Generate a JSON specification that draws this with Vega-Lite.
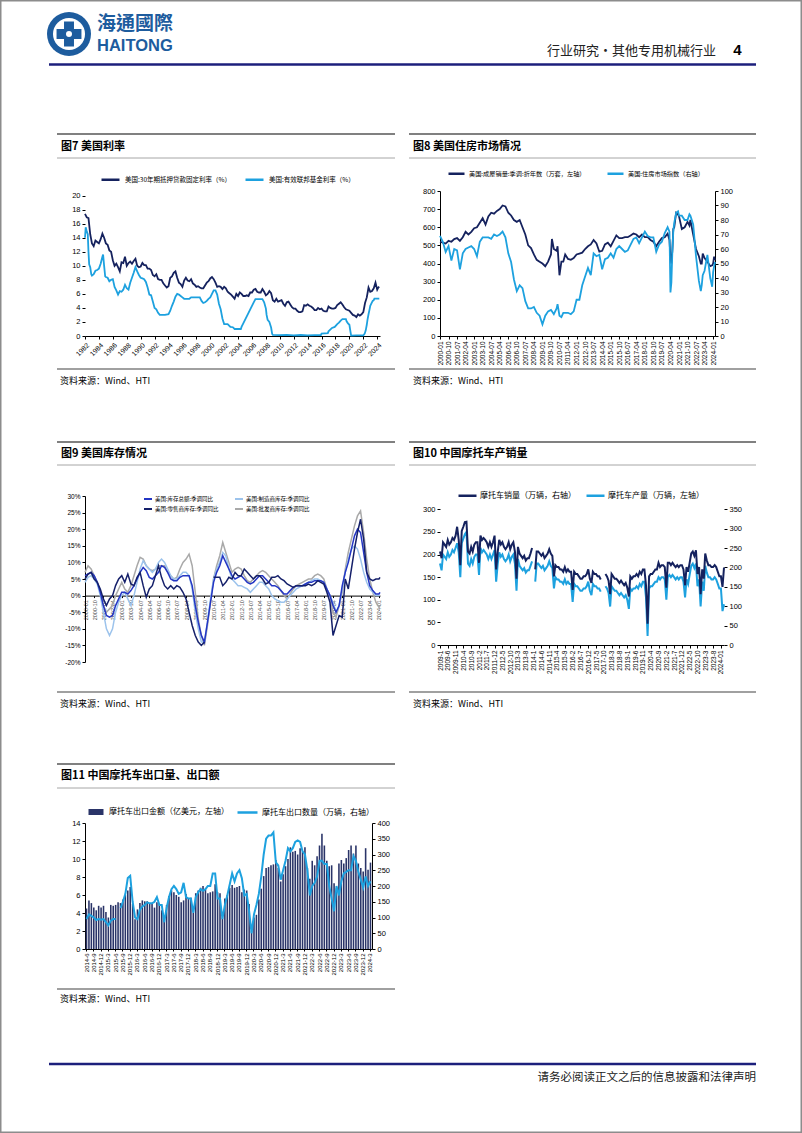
{
"$schema":"https://vega.github.io/schema/vega-lite/v6.json",
"padding":0,
"background":"white",
"columns":5,
"spacing":0,
"bounds":"flush",
"align":"each",
"resolve":{"scale":{"color":"independent","fill":"independent","stroke":"independent"}},
"config":{
 "view":{"stroke":null},
 "font":"Liberation Sans",
 "axis":{"domainColor":"#000","tickColor":"#000","labelColor":"#000","labelFont":"Liberation Sans","labelFontSize":7.5,"tickSize":3,"grid":false,"labelPadding":2,"domainWidth":1,"tickWidth":1},
 "legend":{"labelFont":"Noto Sans CJK SC","labelColor":"#000","padding":0,"labelOffset":3,"symbolStrokeWidth":2.5}
},
"datasets":{
"c7a":[{"t":1982,"v":17.4},{"t":1982.25,"v":16.9},{"t":1982.5,"v":16.8},{"t":1982.75,"v":14.5},{"t":1983,"v":13.2},{"t":1983.25,"v":12.8},{"t":1983.5,"v":13.6},{"t":1983.75,"v":13.4},{"t":1984,"v":13.2},{"t":1984.25,"v":13.8},{"t":1984.5,"v":14.6},{"t":1984.75,"v":14},{"t":1985,"v":13.2},{"t":1985.25,"v":13},{"t":1985.5,"v":12.2},{"t":1985.75,"v":12},{"t":1986,"v":10.8},{"t":1986.25,"v":10},{"t":1986.5,"v":10.3},{"t":1986.75,"v":9.8},{"t":1987,"v":9.2},{"t":1987.25,"v":10.5},{"t":1987.5,"v":10.4},{"t":1987.75,"v":11.3},{"t":1988,"v":10},{"t":1988.25,"v":10.4},{"t":1988.5,"v":10.6},{"t":1988.75,"v":10.3},{"t":1989,"v":10.7},{"t":1989.25,"v":11},{"t":1989.5,"v":10},{"t":1989.75,"v":9.8},{"t":1990,"v":9.9},{"t":1990.25,"v":10.4},{"t":1990.5,"v":10.1},{"t":1990.75,"v":10.1},{"t":1991,"v":9.6},{"t":1991.25,"v":9.6},{"t":1991.5,"v":9.4},{"t":1991.75,"v":8.7},{"t":1992,"v":8.5},{"t":1992.25,"v":8.8},{"t":1992.5,"v":8.1},{"t":1992.75,"v":8},{"t":1993,"v":8},{"t":1993.25,"v":7.5},{"t":1993.5,"v":7.2},{"t":1993.75,"v":6.9},{"t":1994,"v":7.1},{"t":1994.25,"v":8.3},{"t":1994.5,"v":8.5},{"t":1994.75,"v":9},{"t":1995,"v":9.2},{"t":1995.25,"v":8.3},{"t":1995.5,"v":7.6},{"t":1995.75,"v":7.4},{"t":1996,"v":7},{"t":1996.25,"v":7.9},{"t":1996.5,"v":8.3},{"t":1996.75,"v":7.9},{"t":1997,"v":7.8},{"t":1997.25,"v":8.1},{"t":1997.5,"v":7.5},{"t":1997.75,"v":7.3},{"t":1998,"v":7},{"t":1998.25,"v":7.1},{"t":1998.5,"v":6.9},{"t":1998.75,"v":6.8},{"t":1999,"v":6.8},{"t":1999.25,"v":7.2},{"t":1999.5,"v":7.6},{"t":1999.75,"v":7.8},{"t":2000,"v":8.2},{"t":2000.25,"v":8.4},{"t":2000.5,"v":8.1},{"t":2000.75,"v":7.6},{"t":2001,"v":7},{"t":2001.25,"v":7.1},{"t":2001.5,"v":7},{"t":2001.75,"v":6.7},{"t":2002,"v":7},{"t":2002.25,"v":6.8},{"t":2002.5,"v":6.3},{"t":2002.75,"v":6.1},{"t":2003,"v":5.9},{"t":2003.25,"v":5.6},{"t":2003.5,"v":5.3},{"t":2003.75,"v":6},{"t":2004,"v":5.7},{"t":2004.25,"v":6.2},{"t":2004.5,"v":6},{"t":2004.75,"v":5.7},{"t":2005,"v":5.7},{"t":2005.25,"v":5.8},{"t":2005.5,"v":5.7},{"t":2005.75,"v":6.2},{"t":2006,"v":6.2},{"t":2006.25,"v":6.6},{"t":2006.5,"v":6.7},{"t":2006.75,"v":6.3},{"t":2007,"v":6.2},{"t":2007.25,"v":6.2},{"t":2007.5,"v":6.7},{"t":2007.75,"v":6.3},{"t":2008,"v":5.8},{"t":2008.25,"v":6},{"t":2008.5,"v":6.4},{"t":2008.75,"v":6.1},{"t":2009,"v":5.1},{"t":2009.25,"v":4.9},{"t":2009.5,"v":5.3},{"t":2009.75,"v":4.9},{"t":2010,"v":5},{"t":2010.25,"v":5.1},{"t":2010.5,"v":4.6},{"t":2010.75,"v":4.3},{"t":2011,"v":4.8},{"t":2011.25,"v":4.9},{"t":2011.5,"v":4.5},{"t":2011.75,"v":4.1},{"t":2012,"v":3.9},{"t":2012.25,"v":3.9},{"t":2012.5,"v":3.6},{"t":2012.75,"v":3.4},{"t":2013,"v":3.4},{"t":2013.25,"v":3.5},{"t":2013.5,"v":4.4},{"t":2013.75,"v":4.3},{"t":2014,"v":4.5},{"t":2014.25,"v":4.3},{"t":2014.5,"v":4.2},{"t":2014.75,"v":4},{"t":2015,"v":3.7},{"t":2015.25,"v":3.7},{"t":2015.5,"v":4},{"t":2015.75,"v":3.8},{"t":2016,"v":3.9},{"t":2016.25,"v":3.6},{"t":2016.5,"v":3.5},{"t":2016.75,"v":3.5},{"t":2017,"v":4.2},{"t":2017.25,"v":4},{"t":2017.5,"v":3.9},{"t":2017.75,"v":3.9},{"t":2018,"v":4},{"t":2018.25,"v":4.4},{"t":2018.5,"v":4.6},{"t":2018.75,"v":4.8},{"t":2019,"v":4.5},{"t":2019.25,"v":4.1},{"t":2019.5,"v":3.8},{"t":2019.75,"v":3.7},{"t":2020,"v":3.6},{"t":2020.25,"v":3.3},{"t":2020.5,"v":3},{"t":2020.75,"v":2.9},{"t":2021,"v":2.7},{"t":2021.25,"v":3.1},{"t":2021.5,"v":2.9},{"t":2021.75,"v":3.1},{"t":2022,"v":3.4},{"t":2022.25,"v":4.7},{"t":2022.5,"v":5.5},{"t":2022.75,"v":6.9},{"t":2023,"v":6.3},{"t":2023.25,"v":6.4},{"t":2023.5,"v":6.8},{"t":2023.75,"v":7.6},{"t":2024,"v":6.6},{"t":2024.15,"v":6.9},{"t":2024.3,"v":7}],
"c7b":[{"t":1982,"v":14},{"t":1982.1,"v":15.5},{"t":1982.25,"v":14.9},{"t":1982.4,"v":14.5},{"t":1982.5,"v":12},{"t":1982.6,"v":10.2},{"t":1982.75,"v":9.8},{"t":1982.9,"v":8.8},{"t":1983,"v":8.6},{"t":1983.25,"v":8.8},{"t":1983.5,"v":9.3},{"t":1983.75,"v":9.4},{"t":1984,"v":9.6},{"t":1984.25,"v":10.3},{"t":1984.5,"v":11.3},{"t":1984.6,"v":11.6},{"t":1984.75,"v":10},{"t":1984.9,"v":8.5},{"t":1985,"v":8.4},{"t":1985.25,"v":8.3},{"t":1985.5,"v":7.8},{"t":1985.75,"v":8},{"t":1986,"v":8.1},{"t":1986.25,"v":7},{"t":1986.5,"v":6.5},{"t":1986.75,"v":5.9},{"t":1987,"v":6.4},{"t":1987.25,"v":6.3},{"t":1987.5,"v":6.6},{"t":1987.75,"v":7.3},{"t":1988,"v":6.8},{"t":1988.25,"v":6.6},{"t":1988.5,"v":7.6},{"t":1988.75,"v":8.3},{"t":1989,"v":9},{"t":1989.25,"v":9.8},{"t":1989.5,"v":9.2},{"t":1989.75,"v":8.7},{"t":1990,"v":8.3},{"t":1990.25,"v":8.2},{"t":1990.5,"v":8.1},{"t":1990.75,"v":7.7},{"t":1991,"v":6.9},{"t":1991.25,"v":5.9},{"t":1991.5,"v":5.8},{"t":1991.75,"v":4.9},{"t":1992,"v":4},{"t":1992.25,"v":3.8},{"t":1992.5,"v":3.3},{"t":1992.75,"v":3},{"t":1993,"v":3},{"t":1993.5,"v":3},{"t":1994,"v":3.1},{"t":1994.25,"v":3.6},{"t":1994.5,"v":4.3},{"t":1994.75,"v":4.9},{"t":1995,"v":5.6},{"t":1995.25,"v":6},{"t":1995.5,"v":5.9},{"t":1995.75,"v":5.7},{"t":1996,"v":5.5},{"t":1996.25,"v":5.3},{"t":1996.5,"v":5.3},{"t":1996.75,"v":5.3},{"t":1997,"v":5.3},{"t":1997.25,"v":5.5},{"t":1997.5,"v":5.5},{"t":1997.75,"v":5.5},{"t":1998,"v":5.5},{"t":1998.25,"v":5.5},{"t":1998.5,"v":5.5},{"t":1998.75,"v":5},{"t":1999,"v":4.7},{"t":1999.25,"v":4.8},{"t":1999.5,"v":5},{"t":1999.75,"v":5.3},{"t":2000,"v":5.5},{"t":2000.25,"v":6},{"t":2000.5,"v":6.5},{"t":2000.75,"v":6.5},{"t":2001,"v":5.9},{"t":2001.25,"v":4.6},{"t":2001.5,"v":3.8},{"t":2001.75,"v":2.5},{"t":2002,"v":1.7},{"t":2002.5,"v":1.7},{"t":2002.9,"v":1.3},{"t":2003.25,"v":1.25},{"t":2003.5,"v":1},{"t":2004,"v":1},{"t":2004.4,"v":1},{"t":2004.5,"v":1.3},{"t":2004.75,"v":1.8},{"t":2005,"v":2.3},{"t":2005.25,"v":2.8},{"t":2005.5,"v":3.3},{"t":2005.75,"v":3.8},{"t":2006,"v":4.3},{"t":2006.25,"v":4.8},{"t":2006.5,"v":5.25},{"t":2007,"v":5.25},{"t":2007.5,"v":5.25},{"t":2007.75,"v":4.8},{"t":2008,"v":3.9},{"t":2008.1,"v":3},{"t":2008.25,"v":2.3},{"t":2008.5,"v":2},{"t":2008.75,"v":1.2},{"t":2008.9,"v":0.3},{"t":2009,"v":0.15},{"t":2010,"v":0.12},{"t":2011,"v":0.15},{"t":2012,"v":0.1},{"t":2013,"v":0.14},{"t":2014,"v":0.08},{"t":2015,"v":0.12},{"t":2015.9,"v":0.13},{"t":2016,"v":0.35},{"t":2016.9,"v":0.4},{"t":2017,"v":0.66},{"t":2017.25,"v":0.9},{"t":2017.5,"v":1.15},{"t":2017.9,"v":1.3},{"t":2018,"v":1.42},{"t":2018.25,"v":1.7},{"t":2018.5,"v":1.9},{"t":2018.75,"v":2.2},{"t":2019,"v":2.4},{"t":2019.5,"v":2.4},{"t":2019.6,"v":2.1},{"t":2019.8,"v":1.8},{"t":2020,"v":1.6},{"t":2020.15,"v":0.65},{"t":2020.25,"v":0.05},{"t":2021,"v":0.08},{"t":2022,"v":0.08},{"t":2022.2,"v":0.33},{"t":2022.35,"v":0.8},{"t":2022.5,"v":1.6},{"t":2022.6,"v":2.3},{"t":2022.75,"v":3.1},{"t":2022.9,"v":3.8},{"t":2023,"v":4.3},{"t":2023.15,"v":4.6},{"t":2023.35,"v":5},{"t":2023.5,"v":5.1},{"t":2023.6,"v":5.33},{"t":2024.3,"v":5.33}],
"c8":[{"d":"2000-01","s":520,"h":69},{"d":"2000-04","s":515,"h":65},{"d":"2000-07","s":510,"h":58},{"d":"2000-10","s":525,"h":62},{"d":"2001-01","s":520,"h":52},{"d":"2001-04","s":535,"h":60},{"d":"2001-07","s":540,"h":59},{"d":"2001-10","s":525,"h":46},{"d":"2002-01","s":545,"h":57},{"d":"2002-04","s":575,"h":60},{"d":"2002-07","s":560,"h":61},{"d":"2002-10","s":575,"h":62},{"d":"2003-01","s":595,"h":60},{"d":"2003-04","s":600,"h":55},{"d":"2003-07","s":625,"h":65},{"d":"2003-10","s":650,"h":68},{"d":"2004-01","s":615,"h":68},{"d":"2004-04","s":660,"h":68},{"d":"2004-07","s":680,"h":67},{"d":"2004-10","s":675,"h":70},{"d":"2005-01","s":690,"h":69},{"d":"2005-04","s":700,"h":70},{"d":"2005-07","s":720,"h":72},{"d":"2005-10","s":715,"h":68},{"d":"2006-01","s":680,"h":57},{"d":"2006-04","s":665,"h":51},{"d":"2006-07","s":640,"h":39},{"d":"2006-10","s":630,"h":31},{"d":"2007-01","s":640,"h":35},{"d":"2007-04","s":600,"h":33},{"d":"2007-07","s":560,"h":24},{"d":"2007-10","s":500,"h":19},{"d":"2008-01","s":485,"h":19},{"d":"2008-04","s":450,"h":20},{"d":"2008-07","s":420,"h":16},{"d":"2008-10","s":410,"h":14},{"d":"2009-01","s":400,"h":8},{"d":"2009-04","s":385,"h":14},{"d":"2009-07","s":410,"h":17},{"d":"2009-10","s":450,"h":18},{"d":"2009-11","s":535,"h":17},{"d":"2010-01","s":480,"h":15},{"d":"2010-04","s":470,"h":19},{"d":"2010-05","s":495,"h":22},{"d":"2010-07","s":335,"h":14},{"d":"2010-09","s":410,"h":13},{"d":"2010-11","s":410,"h":16},{"d":"2011-01","s":450,"h":16},{"d":"2011-04","s":425,"h":16},{"d":"2011-07","s":420,"h":15},{"d":"2011-10","s":430,"h":17},{"d":"2012-01","s":450,"h":25},{"d":"2012-04","s":455,"h":25},{"d":"2012-07","s":460,"h":35},{"d":"2012-10","s":480,"h":41},{"d":"2013-01","s":495,"h":47},{"d":"2013-04","s":505,"h":42},{"d":"2013-07","s":530,"h":57},{"d":"2013-10","s":510,"h":55},{"d":"2014-01","s":465,"h":56},{"d":"2014-04","s":470,"h":46},{"d":"2014-07","s":505,"h":53},{"d":"2014-10","s":515,"h":54},{"d":"2015-01","s":495,"h":57},{"d":"2015-04","s":525,"h":54},{"d":"2015-07","s":555,"h":60},{"d":"2015-10","s":540,"h":62},{"d":"2016-01","s":540,"h":60},{"d":"2016-04","s":545,"h":58},{"d":"2016-07","s":545,"h":59},{"d":"2016-10","s":555,"h":63},{"d":"2017-01","s":565,"h":67},{"d":"2017-04","s":560,"h":68},{"d":"2017-07","s":545,"h":64},{"d":"2017-10","s":560,"h":68},{"d":"2018-01","s":545,"h":72},{"d":"2018-04","s":545,"h":69},{"d":"2018-07","s":530,"h":68},{"d":"2018-10","s":520,"h":68},{"d":"2019-01","s":495,"h":58},{"d":"2019-04","s":520,"h":63},{"d":"2019-07","s":540,"h":65},{"d":"2019-10","s":545,"h":71},{"d":"2020-01","s":565,"h":75},{"d":"2020-03","s":530,"h":72},{"d":"2020-04","s":430,"h":30},{"d":"2020-05","s":400,"h":37},{"d":"2020-06","s":470,"h":58},{"d":"2020-07","s":590,"h":72},{"d":"2020-08","s":600,"h":78},{"d":"2020-10","s":680,"h":85},{"d":"2020-12","s":670,"h":86},{"d":"2021-01","s":660,"h":83},{"d":"2021-04","s":590,"h":83},{"d":"2021-07","s":600,"h":80},{"d":"2021-10","s":630,"h":80},{"d":"2021-12","s":610,"h":84},{"d":"2022-01","s":640,"h":83},{"d":"2022-04","s":560,"h":77},{"d":"2022-07","s":480,"h":55},{"d":"2022-10","s":440,"h":38},{"d":"2022-12","s":400,"h":31},{"d":"2023-01","s":400,"h":35},{"d":"2023-02","s":455,"h":42},{"d":"2023-04","s":430,"h":45},{"d":"2023-07","s":410,"h":56},{"d":"2023-10","s":385,"h":40},{"d":"2023-12","s":390,"h":34},{"d":"2024-01","s":400,"h":44},{"d":"2024-02","s":438,"h":48},{"d":"2024-03","s":419,"h":51}],
"c9":[{"d":"2000-01","t":6,"m":4,"r":5,"w":7},{"d":"2000-04","t":6.5,"m":5.5,"r":6.5,"w":9},{"d":"2000-07","t":7,"m":6,"r":7,"w":8},{"d":"2000-10","t":6,"m":5,"r":5,"w":6},{"d":"2001-01","t":4,"m":3.5,"r":4,"w":4},{"d":"2001-04","t":1,"m":0,"r":2,"w":1},{"d":"2001-07","t":-3,"m":-5,"r":-1,"w":-3},{"d":"2001-10","t":-6,"m":-10,"r":-3,"w":-5},{"d":"2002-01","t":-6.5,"m":-12,"r":-1,"w":-4},{"d":"2002-04","t":-6,"m":-10,"r":0,"w":-3},{"d":"2002-07","t":-3,"m":-5,"r":3,"w":0},{"d":"2002-10","t":-1,"m":-2,"r":5,"w":2},{"d":"2003-01","t":1,"m":0,"r":6,"w":4},{"d":"2003-04","t":1,"m":1,"r":4,"w":2},{"d":"2003-07","t":0.5,"m":-1,"r":6.5,"w":1},{"d":"2003-10","t":1.5,"m":-3,"r":3.5,"w":3},{"d":"2004-01","t":3,"m":0,"r":3,"w":6},{"d":"2004-04","t":5,"m":4,"r":5.5,"w":9},{"d":"2004-07","t":7,"m":8,"r":7,"w":11.5},{"d":"2004-10","t":8.5,"m":10.5,"r":3,"w":11},{"d":"2005-01","t":7.5,"m":9,"r":-0.5,"w":9},{"d":"2005-04","t":5.5,"m":8,"r":2,"w":8},{"d":"2005-07","t":5,"m":7,"r":3,"w":7.5},{"d":"2005-10","t":6,"m":8,"r":6,"w":8},{"d":"2006-01","t":7,"m":10,"r":9,"w":9},{"d":"2006-04","t":9,"m":11,"r":5.5,"w":9},{"d":"2006-07","t":8.5,"m":10,"r":3,"w":9},{"d":"2006-10","t":7,"m":8,"r":2,"w":7},{"d":"2007-01","t":5,"m":6,"r":3,"w":6},{"d":"2007-04","t":4.5,"m":5,"r":2,"w":5},{"d":"2007-07","t":4.5,"m":5,"r":3,"w":5.5},{"d":"2007-10","t":5.5,"m":6,"r":2.5,"w":8},{"d":"2008-01","t":6,"m":7,"r":1,"w":10},{"d":"2008-04","t":6,"m":7,"r":-1,"w":11},{"d":"2008-07","t":6,"m":6,"r":-5,"w":12.5},{"d":"2008-10","t":3,"m":2,"r":-9,"w":9},{"d":"2009-01","t":-3,"m":-5,"r":-12,"w":1},{"d":"2009-04","t":-8,"m":-10,"r":-14,"w":-7},{"d":"2009-07","t":-12,"m":-14,"r":-15,"w":-12},{"d":"2009-10","t":-14,"m":-14,"r":-14,"w":-15},{"d":"2010-01","t":-8,"m":-8,"r":null,"w":-9},{"d":"2010-04","t":-2,"m":-1,"r":null,"w":-2},{"d":"2010-07","t":4,"m":5,"r":5.5,"w":5},{"d":"2010-10","t":7,"m":8,"r":5.5,"w":9},{"d":"2011-01","t":9,"m":10,"r":5.5,"w":12},{"d":"2011-04","t":12,"m":13,"r":3,"w":16},{"d":"2011-07","t":10,"m":12,"r":4,"w":13},{"d":"2011-10","t":8,"m":8,"r":5.5,"w":10},{"d":"2012-01","t":6,"m":5,"r":5,"w":7},{"d":"2012-04","t":5,"m":4,"r":7,"w":8},{"d":"2012-07","t":5.5,"m":3,"r":6,"w":8.5},{"d":"2012-10","t":6,"m":3,"r":6,"w":8},{"d":"2013-01","t":5,"m":2.5,"r":8,"w":6},{"d":"2013-04","t":4,"m":2,"r":7,"w":4.5},{"d":"2013-07","t":3.5,"m":1,"r":6,"w":4},{"d":"2013-10","t":4,"m":2,"r":5,"w":5},{"d":"2014-01","t":5,"m":3,"r":6,"w":6},{"d":"2014-04","t":6,"m":4,"r":6,"w":7},{"d":"2014-07","t":6,"m":4,"r":5,"w":7.5},{"d":"2014-10","t":5,"m":3,"r":3.5,"w":7},{"d":"2015-01","t":4,"m":2,"r":4,"w":6},{"d":"2015-04","t":3,"m":0,"r":5.5,"w":5},{"d":"2015-07","t":3,"m":-1,"r":5.5,"w":4},{"d":"2015-10","t":2.5,"m":-1.5,"r":6,"w":3},{"d":"2016-01","t":1.5,"m":-2,"r":5,"w":1.5},{"d":"2016-04","t":0.5,"m":-2,"r":4.5,"w":0},{"d":"2016-07","t":0.5,"m":-1,"r":3.5,"w":-1},{"d":"2016-10","t":1.5,"m":0,"r":3,"w":0.5},{"d":"2017-01","t":2.5,"m":1,"r":2.5,"w":2},{"d":"2017-04","t":3,"m":2,"r":3,"w":3},{"d":"2017-07","t":3,"m":2.5,"r":3,"w":3.5},{"d":"2017-10","t":3,"m":3,"r":3,"w":4},{"d":"2018-01","t":3.5,"m":3.5,"r":3,"w":4.5},{"d":"2018-04","t":4,"m":4,"r":3.5,"w":5},{"d":"2018-07","t":4,"m":4.5,"r":3,"w":5},{"d":"2018-10","t":4.5,"m":5,"r":3.5,"w":6},{"d":"2019-01","t":4.5,"m":5,"r":4.5,"w":6.5},{"d":"2019-04","t":4.5,"m":4.5,"r":4,"w":6},{"d":"2019-07","t":4,"m":4,"r":3.5,"w":5},{"d":"2019-10","t":2,"m":2,"r":1,"w":2},{"d":"2020-01","t":0,"m":0,"r":-2,"w":0},{"d":"2020-04","t":-3,"m":-2,"r":-12,"w":-5},{"d":"2020-07","t":-5,"m":-5,"r":-9,"w":-6.5},{"d":"2020-10","t":-3,"m":-3,"r":-6,"w":-3},{"d":"2021-01","t":3,"m":2,"r":-6.5,"w":1},{"d":"2021-04","t":7,"m":7,"r":5,"w":8},{"d":"2021-07","t":10,"m":11,"r":2,"w":13},{"d":"2021-10","t":14,"m":14,"r":8,"w":17},{"d":"2022-01","t":18,"m":15,"r":14,"w":21},{"d":"2022-04","t":20,"m":14,"r":19,"w":24},{"d":"2022-07","t":19,"m":11,"r":23,"w":25.5},{"d":"2022-10","t":13,"m":7,"r":17,"w":19},{"d":"2023-01","t":7,"m":4,"r":7,"w":11},{"d":"2023-04","t":3,"m":2,"r":5,"w":5},{"d":"2023-07","t":1.5,"m":1,"r":4.5,"w":1},{"d":"2023-10","t":0.5,"m":0,"r":5,"w":-2},{"d":"2024-01","t":0.5,"m":0,"r":5,"w":-3.5},{"d":"2024-02","t":1,"m":0,"r":5.5,"w":-3}],
"c10":[{"m":"2009-01","p":180,"s":241},{"m":"2009-02","p":165,"s":224},{"m":"2009-03","p":200,"s":265},{"m":"2009-04","p":195,"s":259},{"m":"2009-05","p":190,"s":253},{"m":"2009-06","p":205,"s":271},{"m":"2009-07","p":195,"s":259},{"m":"2009-08","p":200,"s":265},{"m":"2009-09","p":210,"s":276},{"m":"2009-10","p":205,"s":271},{"m":"2009-11","p":215,"s":282},{"m":"2009-12","p":225,"s":305},{"m":"2010-01","p":205,"s":271},{"m":"2010-02","p":150,"s":206},{"m":"2010-03","p":225,"s":294},{"m":"2010-04","p":235,"s":305},{"m":"2010-05","p":245,"s":317},{"m":"2010-06","p":250,"s":318},{"m":"2010-07","p":180,"s":241},{"m":"2010-08","p":175,"s":236},{"m":"2010-09","p":190,"s":253},{"m":"2010-10","p":180,"s":241},{"m":"2010-11","p":195,"s":259},{"m":"2010-12","p":200,"s":265},{"m":"2011-01","p":200,"s":265},{"m":"2011-02","p":155,"s":212},{"m":"2011-03","p":215,"s":282},{"m":"2011-04","p":205,"s":271},{"m":"2011-05","p":210,"s":276},{"m":"2011-06","p":205,"s":271},{"m":"2011-07","p":200,"s":265},{"m":"2011-08","p":190,"s":253},{"m":"2011-09","p":200,"s":265},{"m":"2011-10","p":190,"s":253},{"m":"2011-11","p":200,"s":265},{"m":"2011-12","p":210,"s":282},{"m":"2012-01","p":140,"s":195},{"m":"2012-02","p":180,"s":241},{"m":"2012-03","p":205,"s":271},{"m":"2012-04","p":195,"s":259},{"m":"2012-05","p":200,"s":265},{"m":"2012-06","p":190,"s":253},{"m":"2012-07","p":185,"s":247},{"m":"2012-08","p":190,"s":253},{"m":"2012-09","p":200,"s":265},{"m":"2012-10","p":185,"s":247},{"m":"2012-11","p":195,"s":259},{"m":"2012-12","p":200,"s":265},{"m":"2013-01","p":180,"s":241},{"m":"2013-02","p":120,"s":171},{"m":"2013-03","p":190,"s":253},{"m":"2013-04","p":175,"s":236},{"m":"2013-05","p":170,"s":230},{"m":"2013-06","p":165,"s":224},{"m":"2013-07","p":170,"s":230},{"m":"2013-08","p":160,"s":218},{"m":"2013-09","p":165,"s":224},{"m":"2013-10","p":165,"s":224},{"m":"2013-11","p":175,"s":236},{"m":"2013-12","p":185,"s":250},{"m":"2014-01","p":null,"s":null},{"m":"2014-02","p":140,"s":195},{"m":"2014-03","p":180,"s":241},{"m":"2014-04","p":180,"s":241},{"m":"2014-05","p":175,"s":236},{"m":"2014-06","p":170,"s":230},{"m":"2014-07","p":175,"s":236},{"m":"2014-08","p":165,"s":224},{"m":"2014-09","p":170,"s":230},{"m":"2014-10","p":175,"s":236},{"m":"2014-11","p":185,"s":247},{"m":"2014-12","p":175,"s":236},{"m":"2015-01","p":170,"s":230},{"m":"2015-02","p":125,"s":177},{"m":"2015-03","p":150,"s":206},{"m":"2015-04","p":145,"s":201},{"m":"2015-05","p":145,"s":201},{"m":"2015-06","p":140,"s":195},{"m":"2015-07","p":140,"s":195},{"m":"2015-08","p":135,"s":189},{"m":"2015-09","p":145,"s":201},{"m":"2015-10","p":135,"s":189},{"m":"2015-11","p":140,"s":195},{"m":"2015-12","p":135,"s":189},{"m":"2016-01","p":135,"s":189},{"m":"2016-02","p":95,"s":142},{"m":"2016-03","p":135,"s":189},{"m":"2016-04","p":130,"s":183},{"m":"2016-05","p":130,"s":183},{"m":"2016-06","p":125,"s":177},{"m":"2016-07","p":120,"s":171},{"m":"2016-08","p":120,"s":171},{"m":"2016-09","p":125,"s":177},{"m":"2016-10","p":125,"s":177},{"m":"2016-11","p":130,"s":183},{"m":"2016-12","p":140,"s":195},{"m":"2017-01","p":120,"s":171},{"m":"2017-02","p":110,"s":160},{"m":"2017-03","p":135,"s":189},{"m":"2017-04","p":130,"s":183},{"m":"2017-05","p":130,"s":183},{"m":"2017-06","p":125,"s":177},{"m":"2017-07","p":125,"s":177},{"m":"2017-08","p":118,"s":169},{"m":"2017-09","p":null,"s":null},{"m":"2017-10","p":null,"s":null},{"m":"2017-11","p":130,"s":183},{"m":"2017-12","p":125,"s":177},{"m":"2018-01","p":115,"s":166},{"m":"2018-02","p":85,"s":131},{"m":"2018-03","p":130,"s":183},{"m":"2018-04","p":125,"s":177},{"m":"2018-05","p":120,"s":171},{"m":"2018-06","p":120,"s":171},{"m":"2018-07","p":115,"s":166},{"m":"2018-08","p":110,"s":160},{"m":"2018-09","p":115,"s":166},{"m":"2018-10","p":110,"s":160},{"m":"2018-11","p":105,"s":154},{"m":"2018-12","p":110,"s":160},{"m":"2019-01","p":100,"s":148},{"m":"2019-02","p":80,"s":125},{"m":"2019-03","p":125,"s":177},{"m":"2019-04","p":120,"s":171},{"m":"2019-05","p":125,"s":177},{"m":"2019-06","p":125,"s":177},{"m":"2019-07","p":130,"s":183},{"m":"2019-08","p":125,"s":177},{"m":"2019-09","p":135,"s":189},{"m":"2019-10","p":130,"s":183},{"m":"2019-11","p":140,"s":195},{"m":"2019-12","p":140,"s":195},{"m":"2020-01","p":105,"s":154},{"m":"2020-02","p":20,"s":55},{"m":"2020-03","p":125,"s":177},{"m":"2020-04","p":130,"s":183},{"m":"2020-05","p":130,"s":183},{"m":"2020-06","p":135,"s":189},{"m":"2020-07","p":140,"s":195},{"m":"2020-08","p":140,"s":195},{"m":"2020-09","p":150,"s":212},{"m":"2020-10","p":145,"s":201},{"m":"2020-11","p":150,"s":206},{"m":"2020-12","p":150,"s":206},{"m":"2021-01","p":145,"s":201},{"m":"2021-02","p":100,"s":148},{"m":"2021-03","p":150,"s":212},{"m":"2021-04","p":155,"s":212},{"m":"2021-05","p":150,"s":206},{"m":"2021-06","p":155,"s":212},{"m":"2021-07","p":150,"s":206},{"m":"2021-08","p":145,"s":201},{"m":"2021-09","p":150,"s":206},{"m":"2021-10","p":145,"s":201},{"m":"2021-11","p":150,"s":206},{"m":"2021-12","p":150,"s":206},{"m":"2022-01","p":140,"s":195},{"m":"2022-02","p":105,"s":154},{"m":"2022-03","p":145,"s":201},{"m":"2022-04","p":135,"s":189},{"m":"2022-05","p":155,"s":212},{"m":"2022-06","p":175,"s":236},{"m":"2022-07","p":180,"s":241},{"m":"2022-08","p":170,"s":230},{"m":"2022-09","p":180,"s":244},{"m":"2022-10","p":130,"s":183},{"m":"2022-11","p":145,"s":201},{"m":"2022-12","p":85,"s":131},{"m":"2023-01","p":140,"s":195},{"m":"2023-02","p":120,"s":171},{"m":"2023-03","p":175,"s":236},{"m":"2023-04","p":160,"s":218},{"m":"2023-05","p":150,"s":206},{"m":"2023-06","p":150,"s":206},{"m":"2023-07","p":145,"s":201},{"m":"2023-08","p":145,"s":201},{"m":"2023-09","p":150,"s":206},{"m":"2023-10","p":145,"s":201},{"m":"2023-11","p":135,"s":189},{"m":"2023-12","p":125,"s":177},{"m":"2024-01","p":125,"s":177},{"m":"2024-02","p":75,"s":150},{"m":"2024-03","p":90,"s":200}],
"c11":[{"m":"2014-6","v":4.5,"q":95},{"m":"2014-7","v":5.4,"q":110},{"m":"2014-8","v":5.1,"q":105},{"m":"2014-9","v":4.6,"q":100},{"m":"2014-10","v":4.3,"q":92},{"m":"2014-11","v":4.8,"q":95},{"m":"2014-12","v":4.6,"q":93},{"m":"2015-1","v":4.8,"q":95},{"m":"2015-2","v":4.1,"q":85},{"m":"2015-3","v":3.5,"q":75},{"m":"2015-4","v":4.9,"q":90},{"m":"2015-5","v":4.8,"q":95},{"m":"2015-6","v":4.9,"q":95},{"m":"2015-7","v":5.2,"q":null},{"m":"2015-8","v":5.1,"q":130},{"m":"2015-9","v":5.5,"q":150},{"m":"2015-10","v":6,"q":175},{"m":"2015-11","v":6.5,"q":225},{"m":"2015-12","v":6.9,"q":232},{"m":"2016-1","v":5,"q":150},{"m":"2016-2","v":3.3,"q":100},{"m":"2016-3","v":4.4,"q":95},{"m":"2016-4","v":5.1,"q":125},{"m":"2016-5","v":5.4,"q":135},{"m":"2016-6","v":5.3,"q":140},{"m":"2016-7","v":5.3,"q":148},{"m":"2016-8","v":5.1,"q":145},{"m":"2016-9","v":5,"q":145},{"m":"2016-10","v":4.6,"q":150},{"m":"2016-11","v":5.2,"q":165},{"m":"2016-12","v":5,"q":140},{"m":"2017-1","v":4.3,"q":140},{"m":"2017-2","v":3.2,"q":85},{"m":"2017-3","v":4.9,"q":130},{"m":"2017-4","v":5.9,"q":165},{"m":"2017-5","v":6.5,"q":190},{"m":"2017-6","v":6.3,"q":200},{"m":"2017-7","v":6,"q":190},{"m":"2017-8","v":5.8,"q":175},{"m":"2017-9","v":5.2,"q":180},{"m":"2017-10","v":5.4,"q":210},{"m":"2017-11","v":6.1,"q":165},{"m":"2017-12","v":5.6,"q":160},{"m":"2018-1","v":5.7,"q":160},{"m":"2018-2","v":4,"q":115},{"m":"2018-3","v":6.2,"q":165},{"m":"2018-4","v":6.5,"q":180},{"m":"2018-5","v":6.8,"q":190},{"m":"2018-6","v":7,"q":185},{"m":"2018-7","v":6.6,"q":190},{"m":"2018-8","v":6.2,"q":200},{"m":"2018-9","v":6.3,"q":200},{"m":"2018-10","v":6.4,"q":240},{"m":"2018-11","v":7.2,"q":240},{"m":"2018-12","v":6.3,"q":160},{"m":"2019-1","v":6.2,"q":160},{"m":"2019-2","v":3.5,"q":95},{"m":"2019-3","v":5.6,"q":140},{"m":"2019-4","v":6,"q":170},{"m":"2019-5","v":6.8,"q":205},{"m":"2019-6","v":7.1,"q":240},{"m":"2019-7","v":6.8,"q":215},{"m":"2019-8","v":6.9,"q":240},{"m":"2019-9","v":7,"q":250},{"m":"2019-10","v":6.3,"q":225},{"m":"2019-11","v":6.6,"q":170},{"m":"2019-12","v":6.5,"q":175},{"m":"2020-1","v":5,"q":120},{"m":"2020-2","v":2,"q":50},{"m":"2020-3","v":3.5,"q":110},{"m":"2020-4","v":3.8,"q":140},{"m":"2020-5","v":5.5,"q":175},{"m":"2020-6","v":6.7,"q":230},{"m":"2020-7","v":8.1,"q":300},{"m":"2020-8","v":9,"q":350},{"m":"2020-9","v":9.1,"q":360},{"m":"2020-10","v":9.3,"q":360},{"m":"2020-11","v":9.4,"q":370},{"m":"2020-12","v":9.9,"q":275},{"m":"2021-1","v":9,"q":265},{"m":"2021-2","v":7.5,"q":220},{"m":"2021-3","v":8.3,"q":250},{"m":"2021-4","v":9.2,"q":280},{"m":"2021-5","v":10,"q":320},{"m":"2021-6","v":11.3,"q":310},{"m":"2021-7","v":10.8,"q":320},{"m":"2021-8","v":10.9,"q":340},{"m":"2021-9","v":10.5,"q":345},{"m":"2021-10","v":11.2,"q":340},{"m":"2021-11","v":10.8,"q":310},{"m":"2021-12","v":11.3,"q":300},{"m":"2022-1","v":9,"q":250},{"m":"2022-2","v":7.8,"q":170},{"m":"2022-3","v":9.8,"q":200},{"m":"2022-4","v":9.3,"q":210},{"m":"2022-5","v":10.3,"q":230},{"m":"2022-6","v":11.5,"q":280},{"m":"2022-7","v":12.8,"q":280},{"m":"2022-8","v":11.5,"q":270},{"m":"2022-9","v":9.8,"q":270},{"m":"2022-10","v":9.2,"q":200},{"m":"2022-11","v":9.3,"q":160},{"m":"2022-12","v":7.3,"q":120},{"m":"2023-1","v":6.8,"q":200},{"m":"2023-2","v":9.5,"q":170},{"m":"2023-3","v":9.9,"q":215},{"m":"2023-4","v":9.5,"q":240},{"m":"2023-5","v":10.1,"q":245},{"m":"2023-6","v":11,"q":250},{"m":"2023-7","v":11.5,"q":250},{"m":"2023-8","v":10.6,"q":295},{"m":"2023-9","v":11.5,"q":280},{"m":"2023-10","v":9.5,"q":245},{"m":"2023-11","v":9,"q":220},{"m":"2023-12","v":8.6,"q":195},{"m":"2024-1","v":11.2,"q":230},{"m":"2024-2","v":8.8,"q":200},{"m":"2024-3","v":9.6,"q":215}]
},
"concat":[
{"width":85,"height":191,"data":{"values":[{}]},"layer":[
 {"mark":{"type":"rect","fill":"transparent","stroke":"#8c8c8c","strokeWidth":1.5},"encoding":{"x":{"datum":0.75,"type":"quantitative","scale":{"domain":[0,85],"nice":false,"zero":false},"axis":null},"x2":{"datum":801.25},"y":{"datum":0.75,"type":"quantitative","scale":{"domain":[191,0],"nice":false,"zero":false},"axis":null},"y2":{"datum":1132.25}}},
 {"mark":{"type":"rule","color":"#1c1f7c","strokeWidth":2.5},"encoding":{"x":{"datum":49,"type":"quantitative","scale":{"domain":[0,85],"nice":false,"zero":false},"axis":null},"x2":{"datum":756},"y":{"datum":64.5,"type":"quantitative","scale":{"domain":[191,0],"nice":false,"zero":false},"axis":null}}},
 {"mark":{"type":"point","shape":"circle","filled":true,"opacity":1,"size":1936,"color":"#1d5c9e"},"encoding":{"x":{"datum":69,"type":"quantitative","scale":{"domain":[0,85],"nice":false,"zero":false},"axis":null},"y":{"datum":34,"type":"quantitative","scale":{"domain":[191,0],"nice":false,"zero":false},"axis":null}}},
 {"mark":{"type":"point","shape":"circle","filled":true,"opacity":1,"size":1024,"color":"#ffffff"},"encoding":{"x":{"datum":69,"type":"quantitative","scale":{"domain":[0,85],"nice":false,"zero":false},"axis":null},"y":{"datum":34,"type":"quantitative","scale":{"domain":[191,0],"nice":false,"zero":false},"axis":null}}},
 {"mark":{"type":"point","shape":"cross","filled":true,"opacity":1,"size":620,"color":"#1d5c9e"},"encoding":{"x":{"datum":69,"type":"quantitative","scale":{"domain":[0,85],"nice":false,"zero":false},"axis":null},"y":{"datum":34,"type":"quantitative","scale":{"domain":[191,0],"nice":false,"zero":false},"axis":null}}},
 {"mark":{"type":"point","shape":"circle","filled":true,"opacity":1,"size":36,"color":"#ffffff"},"encoding":{"x":{"datum":69,"type":"quantitative","scale":{"domain":[0,85],"nice":false,"zero":false},"axis":null},"y":{"datum":34,"type":"quantitative","scale":{"domain":[191,0],"nice":false,"zero":false},"axis":null}}},
 {"mark":{"type":"text","text":"海通國際","align":"left","baseline":"middle","font":"Noto Sans CJK TC","fontSize":19,"fontWeight":"bold","color":"#1d5c9e"},"encoding":{"x":{"datum":97,"type":"quantitative","scale":{"domain":[0,85],"nice":false,"zero":false},"axis":null},"y":{"datum":23.5,"type":"quantitative","scale":{"domain":[191,0],"nice":false,"zero":false},"axis":null}}},
 {"mark":{"type":"text","text":"HAITONG","align":"left","baseline":"middle","font":"Liberation Sans","fontSize":16.5,"fontWeight":"bold","color":"#1d5c9e"},"encoding":{"x":{"datum":97,"type":"quantitative","scale":{"domain":[0,85],"nice":false,"zero":false},"axis":null},"y":{"datum":45.5,"type":"quantitative","scale":{"domain":[191,0],"nice":false,"zero":false},"axis":null}}},
 {"mark":{"type":"text","text":"行业研究•其他专用机械行业","align":"right","baseline":"middle","font":"Noto Sans CJK SC","fontSize":13,"color":"#222222"},"encoding":{"x":{"datum":716,"type":"quantitative","scale":{"domain":[0,85],"nice":false,"zero":false},"axis":null},"y":{"datum":50.5,"type":"quantitative","scale":{"domain":[191,0],"nice":false,"zero":false},"axis":null}}},
 {"mark":{"type":"text","text":"4","align":"center","baseline":"middle","font":"Liberation Sans","fontSize":15,"fontWeight":"bold","color":"#000000"},"encoding":{"x":{"datum":737.5,"type":"quantitative","scale":{"domain":[0,85],"nice":false,"zero":false},"axis":null},"y":{"datum":50,"type":"quantitative","scale":{"domain":[191,0],"nice":false,"zero":false},"axis":null}}},
 {"mark":{"type":"rule","color":"#808080","strokeWidth":2},"encoding":{"x":{"datum":57,"type":"quantitative","scale":{"domain":[0,85],"nice":false,"zero":false},"axis":null},"x2":{"datum":395},"y":{"datum":134,"type":"quantitative","scale":{"domain":[191,0],"nice":false,"zero":false},"axis":null}}},
 {"mark":{"type":"rule","color":"#808080","strokeWidth":2},"encoding":{"x":{"datum":409,"type":"quantitative","scale":{"domain":[0,85],"nice":false,"zero":false},"axis":null},"x2":{"datum":756},"y":{"datum":134,"type":"quantitative","scale":{"domain":[191,0],"nice":false,"zero":false},"axis":null}}},
 {"mark":{"type":"rule","color":"#a6a6a6","strokeWidth":1},"encoding":{"x":{"datum":57,"type":"quantitative","scale":{"domain":[0,85],"nice":false,"zero":false},"axis":null},"x2":{"datum":395},"y":{"datum":158,"type":"quantitative","scale":{"domain":[191,0],"nice":false,"zero":false},"axis":null}}},
 {"mark":{"type":"rule","color":"#a6a6a6","strokeWidth":1},"encoding":{"x":{"datum":409,"type":"quantitative","scale":{"domain":[0,85],"nice":false,"zero":false},"axis":null},"x2":{"datum":756},"y":{"datum":158,"type":"quantitative","scale":{"domain":[191,0],"nice":false,"zero":false},"axis":null}}},
 {"mark":{"type":"text","text":"图7 美国利率","align":"left","baseline":"middle","font":"Noto Sans CJK SC","fontSize":11,"fontWeight":"bold","color":"#000000"},"encoding":{"x":{"datum":61,"type":"quantitative","scale":{"domain":[0,85],"nice":false,"zero":false},"axis":null},"y":{"datum":146.5,"type":"quantitative","scale":{"domain":[191,0],"nice":false,"zero":false},"axis":null}}},
 {"mark":{"type":"text","text":"图8 美国住房市场情况","align":"left","baseline":"middle","font":"Noto Sans CJK SC","fontSize":11,"fontWeight":"bold","color":"#000000"},"encoding":{"x":{"datum":413,"type":"quantitative","scale":{"domain":[0,85],"nice":false,"zero":false},"axis":null},"y":{"datum":146.5,"type":"quantitative","scale":{"domain":[191,0],"nice":false,"zero":false},"axis":null}}}
]},
{"width":1,"height":1,"data":{"values":[]},"mark":"point","encoding":{}},
{"width":1,"height":1,"data":{"values":[]},"mark":"point","encoding":{}},
{"width":1,"height":1,"data":{"values":[]},"mark":"point","encoding":{}},
{"width":1,"height":1,"data":{"values":[]},"mark":"point","encoding":{}},

{"width":1,"height":1,"data":{"values":[]},"mark":"point","encoding":{}},
{"width":295,"height":145,
 "encoding":{"x":{"field":"t","type":"quantitative","scale":{"domain":[1982,2024.4],"nice":false,"zero":false},"axis":{"title":null,"values":[1982,1984,1986,1988,1990,1992,1994,1996,1998,2000,2002,2004,2006,2008,2010,2012,2014,2016,2018,2020,2022,2024],"format":"d","labelAngle":-45,"labelFontSize":7,"labelFlush":false,"labelOverlap":false,"labelBound":false}}},
 "layer":[
  {"data":{"values":[{}]},"mark":{"type":"rule","color":"#000000","strokeWidth":1},"encoding":{"x":{"datum":1982,"type":"quantitative"},"y":{"datum":0,"type":"quantitative","scale":{"domain":[0,20.66],"nice":false},"axis":{"title":null,"domain":false,"labelOverlap":false,"values":[0,2,4,6,8,10,12,14,16,18,20]}},"y2":{"datum":20}}},
  {"data":{"name":"c7a"},"mark":{"type":"line","strokeWidth":1.8},"encoding":{"y":{"field":"v","type":"quantitative","scale":{"domain":[0,20.66],"nice":false},"axis":{"title":null,"domain":false,"labelOverlap":false,"values":[0,2,4,6,8,10,12,14,16,18,20]}},"color":{"datum":"美国:30年期抵押贷款固定利率（%）","type":"nominal","scale":{"domain":["美国:30年期抵押贷款固定利率（%）","美国:有效联邦基金利率（%）"],"range":["#15225e","#1da1df"]},"legend":{"orient":"none","legendX":15,"legendY":-22,"direction":"horizontal","symbolType":"stroke","symbolSize":324,"symbolStrokeWidth":2.5,"labelFontSize":6.5,"labelOffset":4,"columnPadding":8,"title":null}}}},
  {"data":{"name":"c7b"},"mark":{"type":"line","strokeWidth":1.8},"encoding":{"y":{"field":"v","type":"quantitative","scale":{"domain":[0,20.66],"nice":false},"axis":{"title":null,"domain":false,"labelOverlap":false,"values":[0,2,4,6,8,10,12,14,16,18,20]}},"color":{"datum":"美国:有效联邦基金利率（%）","type":"nominal","scale":{"domain":["美国:30年期抵押贷款固定利率（%）","美国:有效联邦基金利率（%）"],"range":["#15225e","#1da1df"]}}}}
 ]},
{"width":59.5,"height":1,"data":{"values":[]},"mark":"point","encoding":{}},
{"width":275,"height":145,
 "data":{"name":"c8","format":{"parse":{"d":"utc:'%Y-%m'"}}},
 "encoding":{"x":{"field":"d","type":"temporal","scale":{"type":"utc","domain":[{"year":2000,"month":1,"utc":true},{"year":2024,"month":3,"utc":true}]},"axis":{"title":null,"format":"%Y-%m","labelAngle":-90,"labelFontSize":6.5,"labelFlush":false,"labelOverlap":false,"labelBound":false,"values":[{"year":2000,"month":1,"utc":true},{"year":2000,"month":10,"utc":true},{"year":2001,"month":7,"utc":true},{"year":2002,"month":4,"utc":true},{"year":2003,"month":1,"utc":true},{"year":2003,"month":10,"utc":true},{"year":2004,"month":7,"utc":true},{"year":2005,"month":4,"utc":true},{"year":2006,"month":1,"utc":true},{"year":2006,"month":10,"utc":true},{"year":2007,"month":7,"utc":true},{"year":2008,"month":4,"utc":true},{"year":2009,"month":1,"utc":true},{"year":2009,"month":10,"utc":true},{"year":2010,"month":7,"utc":true},{"year":2011,"month":4,"utc":true},{"year":2012,"month":1,"utc":true},{"year":2012,"month":10,"utc":true},{"year":2013,"month":7,"utc":true},{"year":2014,"month":4,"utc":true},{"year":2015,"month":1,"utc":true},{"year":2015,"month":10,"utc":true},{"year":2016,"month":7,"utc":true},{"year":2017,"month":4,"utc":true},{"year":2018,"month":1,"utc":true},{"year":2018,"month":10,"utc":true},{"year":2019,"month":7,"utc":true},{"year":2020,"month":4,"utc":true},{"year":2021,"month":1,"utc":true},{"year":2021,"month":10,"utc":true},{"year":2022,"month":7,"utc":true},{"year":2023,"month":4,"utc":true},{"year":2024,"month":1,"utc":true}]}}},
 "layer":[
  {"mark":{"type":"line","strokeWidth":1.8},"encoding":{"y":{"field":"s","type":"quantitative","scale":{"domain":[0,800],"nice":false},"axis":{"title":null,"labelOverlap":false,"values":[0,100,200,300,400,500,600,700,800]}},"color":{"datum":"美国:成屋销量:季调:折年数（万套，左轴）","type":"nominal","scale":{"domain":["美国:成屋销量:季调:折年数（万套，左轴）","美国:住房市场指数（右轴）"],"range":["#15225e","#1da1df"]},"legend":{"orient":"none","legendX":7,"legendY":-27,"direction":"horizontal","symbolType":"stroke","symbolSize":256,"symbolStrokeWidth":2.5,"labelFontSize":6.2,"labelOffset":3,"columnPadding":16,"title":null}}}},
  {"mark":{"type":"line","strokeWidth":1.8},"encoding":{"y":{"field":"h","type":"quantitative","scale":{"domain":[0,100],"nice":false},"axis":{"title":null,"orient":"right","labelOverlap":false,"values":[0,10,20,30,40,50,60,70,80,90,100]}},"color":{"datum":"美国:住房市场指数（右轴）","type":"nominal","scale":{"domain":["美国:成屋销量:季调:折年数（万套，左轴）","美国:住房市场指数（右轴）"],"range":["#15225e","#1da1df"]}}}}
 ],
 "resolve":{"scale":{"y":"independent"}}},
{"width":1,"height":1,"data":{"values":[]},"mark":"point","encoding":{}},

{"width":85,"height":160,"data":{"values":[{}]},"layer":[
 {"mark":{"type":"rule","color":"#808080","strokeWidth":1.5},"encoding":{"x":{"datum":57,"type":"quantitative","scale":{"domain":[0,85],"nice":false,"zero":false},"axis":null},"x2":{"datum":395},"y":{"datum":369,"type":"quantitative","scale":{"domain":[496,336],"nice":false,"zero":false},"axis":null}}},
 {"mark":{"type":"rule","color":"#808080","strokeWidth":1.5},"encoding":{"x":{"datum":409,"type":"quantitative","scale":{"domain":[0,85],"nice":false,"zero":false},"axis":null},"x2":{"datum":756},"y":{"datum":369,"type":"quantitative","scale":{"domain":[496,336],"nice":false,"zero":false},"axis":null}}},
 {"mark":{"type":"text","text":"资料来源：Wind、HTI","align":"left","baseline":"middle","font":"Noto Sans CJK SC","fontSize":9,"color":"#000000"},"encoding":{"x":{"datum":60,"type":"quantitative","scale":{"domain":[0,85],"nice":false,"zero":false},"axis":null},"y":{"datum":381,"type":"quantitative","scale":{"domain":[496,336],"nice":false,"zero":false},"axis":null}}},
 {"mark":{"type":"text","text":"资料来源：Wind、HTI","align":"left","baseline":"middle","font":"Noto Sans CJK SC","fontSize":9,"color":"#000000"},"encoding":{"x":{"datum":413,"type":"quantitative","scale":{"domain":[0,85],"nice":false,"zero":false},"axis":null},"y":{"datum":381,"type":"quantitative","scale":{"domain":[496,336],"nice":false,"zero":false},"axis":null}}},
 {"mark":{"type":"rule","color":"#808080","strokeWidth":2},"encoding":{"x":{"datum":57,"type":"quantitative","scale":{"domain":[0,85],"nice":false,"zero":false},"axis":null},"x2":{"datum":395},"y":{"datum":442,"type":"quantitative","scale":{"domain":[496,336],"nice":false,"zero":false},"axis":null}}},
 {"mark":{"type":"rule","color":"#808080","strokeWidth":2},"encoding":{"x":{"datum":409,"type":"quantitative","scale":{"domain":[0,85],"nice":false,"zero":false},"axis":null},"x2":{"datum":756},"y":{"datum":442,"type":"quantitative","scale":{"domain":[496,336],"nice":false,"zero":false},"axis":null}}},
 {"mark":{"type":"rule","color":"#a6a6a6","strokeWidth":1},"encoding":{"x":{"datum":57,"type":"quantitative","scale":{"domain":[0,85],"nice":false,"zero":false},"axis":null},"x2":{"datum":395},"y":{"datum":465,"type":"quantitative","scale":{"domain":[496,336],"nice":false,"zero":false},"axis":null}}},
 {"mark":{"type":"rule","color":"#a6a6a6","strokeWidth":1},"encoding":{"x":{"datum":409,"type":"quantitative","scale":{"domain":[0,85],"nice":false,"zero":false},"axis":null},"x2":{"datum":756},"y":{"datum":465,"type":"quantitative","scale":{"domain":[496,336],"nice":false,"zero":false},"axis":null}}},
 {"mark":{"type":"text","text":"图9 美国库存情况","align":"left","baseline":"middle","font":"Noto Sans CJK SC","fontSize":11,"fontWeight":"bold","color":"#000000"},"encoding":{"x":{"datum":61,"type":"quantitative","scale":{"domain":[0,85],"nice":false,"zero":false},"axis":null},"y":{"datum":454,"type":"quantitative","scale":{"domain":[496,336],"nice":false,"zero":false},"axis":null}}},
 {"mark":{"type":"text","text":"图10 中国摩托车产销量","align":"left","baseline":"middle","font":"Noto Sans CJK SC","fontSize":11,"fontWeight":"bold","color":"#000000"},"encoding":{"x":{"datum":413,"type":"quantitative","scale":{"domain":[0,85],"nice":false,"zero":false},"axis":null},"y":{"datum":454,"type":"quantitative","scale":{"domain":[496,336],"nice":false,"zero":false},"axis":null}}}
]},
{"width":1,"height":1,"data":{"values":[]},"mark":"point","encoding":{}},
{"width":1,"height":1,"data":{"values":[]},"mark":"point","encoding":{}},
{"width":1,"height":1,"data":{"values":[]},"mark":"point","encoding":{}},
{"width":1,"height":1,"data":{"values":[]},"mark":"point","encoding":{}},

{"width":1,"height":1,"data":{"values":[]},"mark":"point","encoding":{}},
{"width":295,"height":166,
 "data":{"name":"c9","format":{"parse":{"d":"utc:'%Y-%m'"}}},
 "encoding":{"x":{"field":"d","type":"temporal","scale":{"type":"utc","domain":[{"year":2000,"month":1,"utc":true},{"year":2024,"month":2,"utc":true}]},"axis":{"title":null,"format":"%Y-%m","labelAngle":-90,"labelFontSize":5.5,"labelColor":"#444444","offset":-66.4,"tickSize":2,"labelFlush":false,"labelOverlap":false,"labelBound":false,"values":[{"year":2000,"month":1,"utc":true},{"year":2000,"month":10,"utc":true},{"year":2001,"month":7,"utc":true},{"year":2002,"month":4,"utc":true},{"year":2003,"month":1,"utc":true},{"year":2003,"month":10,"utc":true},{"year":2004,"month":7,"utc":true},{"year":2005,"month":4,"utc":true},{"year":2006,"month":1,"utc":true},{"year":2006,"month":10,"utc":true},{"year":2007,"month":7,"utc":true},{"year":2008,"month":4,"utc":true},{"year":2009,"month":1,"utc":true},{"year":2009,"month":10,"utc":true},{"year":2010,"month":7,"utc":true},{"year":2011,"month":4,"utc":true},{"year":2012,"month":1,"utc":true},{"year":2012,"month":10,"utc":true},{"year":2013,"month":7,"utc":true},{"year":2014,"month":4,"utc":true},{"year":2015,"month":1,"utc":true},{"year":2015,"month":10,"utc":true},{"year":2016,"month":7,"utc":true},{"year":2017,"month":4,"utc":true},{"year":2018,"month":1,"utc":true},{"year":2018,"month":10,"utc":true},{"year":2019,"month":7,"utc":true},{"year":2020,"month":4,"utc":true},{"year":2021,"month":1,"utc":true},{"year":2021,"month":10,"utc":true},{"year":2022,"month":7,"utc":true},{"year":2023,"month":4,"utc":true},{"year":2024,"month":1,"utc":true}]}}},
 "layer":[
  {"mark":{"type":"line","strokeWidth":1.5},"encoding":{"y":{"field":"w","type":"quantitative","scale":{"domain":[-20,30],"nice":false},"axis":{"title":null,"labelOverlap":false,"values":[-20,-15,-10,-5,0,5,10,15,20,25,30],"labelExpr":"datum.value + '%'","labelFontSize":6.5}},"color":{"datum":"美国:批发商库存:季调同比","type":"nominal","scale":{"domain":["美国:库存总额:季调同比","美国:制造商库存:季调同比","美国:零售商库存:季调同比","美国:批发商库存:季调同比"],"range":["#2436c4","#9cc3ec","#15206a","#a9a9a9"]},"legend":{"orient":"none","legendX":58,"legendY":-2,"direction":"horizontal","columns":2,"symbolType":"stroke","symbolSize":64,"symbolStrokeWidth":2,"labelFontSize":5.5,"labelOffset":2,"columnPadding":12,"rowPadding":1,"title":null}}}},
  {"mark":{"type":"line","strokeWidth":1.5},"encoding":{"y":{"field":"m","type":"quantitative","scale":{"domain":[-20,30],"nice":false},"axis":{"title":null,"labelOverlap":false,"values":[-20,-15,-10,-5,0,5,10,15,20,25,30],"labelExpr":"datum.value + '%'","labelFontSize":6.5}},"color":{"datum":"美国:制造商库存:季调同比","type":"nominal","scale":{"domain":["美国:库存总额:季调同比","美国:制造商库存:季调同比","美国:零售商库存:季调同比","美国:批发商库存:季调同比"],"range":["#2436c4","#9cc3ec","#15206a","#a9a9a9"]}}}},
  {"mark":{"type":"line","strokeWidth":1.5},"encoding":{"y":{"field":"t","type":"quantitative","scale":{"domain":[-20,30],"nice":false},"axis":{"title":null,"labelOverlap":false,"values":[-20,-15,-10,-5,0,5,10,15,20,25,30],"labelExpr":"datum.value + '%'","labelFontSize":6.5}},"color":{"datum":"美国:库存总额:季调同比","type":"nominal","scale":{"domain":["美国:库存总额:季调同比","美国:制造商库存:季调同比","美国:零售商库存:季调同比","美国:批发商库存:季调同比"],"range":["#2436c4","#9cc3ec","#15206a","#a9a9a9"]}}}},
  {"mark":{"type":"line","strokeWidth":1.5,"invalid":"break-paths-show-domains"},"encoding":{"y":{"field":"r","type":"quantitative","scale":{"domain":[-20,30],"nice":false},"axis":{"title":null,"labelOverlap":false,"values":[-20,-15,-10,-5,0,5,10,15,20,25,30],"labelExpr":"datum.value + '%'","labelFontSize":6.5}},"color":{"datum":"美国:零售商库存:季调同比","type":"nominal","scale":{"domain":["美国:库存总额:季调同比","美国:制造商库存:季调同比","美国:零售商库存:季调同比","美国:批发商库存:季调同比"],"range":["#2436c4","#9cc3ec","#15206a","#a9a9a9"]}}}}
 ]},
{"width":1,"height":1,"data":{"values":[]},"mark":"point","encoding":{}},
{"width":284,"height":149,
 "data":{"name":"c10","format":{"parse":{"m":"utc:'%Y-%m'"}}},
 "encoding":{"x":{"field":"m","type":"temporal","scale":{"type":"utc","domain":[{"year":2009,"month":1,"utc":true},{"year":2024,"month":3,"utc":true}]},"axis":{"title":null,"labelExpr":"utcFormat(datum.value, '%Y') == '2024' ? utcFormat(datum.value, '%Y-%m') : utcFormat(datum.value, '%Y-%-m')","labelAngle":-90,"labelFontSize":6.5,"labelFlush":false,"labelOverlap":false,"labelBound":false,"values":[{"year":2009,"month":1,"utc":true},{"year":2009,"month":6,"utc":true},{"year":2009,"month":11,"utc":true},{"year":2010,"month":4,"utc":true},{"year":2010,"month":9,"utc":true},{"year":2011,"month":2,"utc":true},{"year":2011,"month":7,"utc":true},{"year":2011,"month":12,"utc":true},{"year":2012,"month":5,"utc":true},{"year":2012,"month":10,"utc":true},{"year":2013,"month":3,"utc":true},{"year":2013,"month":8,"utc":true},{"year":2014,"month":1,"utc":true},{"year":2014,"month":6,"utc":true},{"year":2014,"month":11,"utc":true},{"year":2015,"month":4,"utc":true},{"year":2015,"month":9,"utc":true},{"year":2016,"month":2,"utc":true},{"year":2016,"month":7,"utc":true},{"year":2016,"month":12,"utc":true},{"year":2017,"month":5,"utc":true},{"year":2017,"month":10,"utc":true},{"year":2018,"month":3,"utc":true},{"year":2018,"month":8,"utc":true},{"year":2019,"month":1,"utc":true},{"year":2019,"month":6,"utc":true},{"year":2019,"month":11,"utc":true},{"year":2020,"month":4,"utc":true},{"year":2020,"month":9,"utc":true},{"year":2021,"month":2,"utc":true},{"year":2021,"month":7,"utc":true},{"year":2021,"month":12,"utc":true},{"year":2022,"month":5,"utc":true},{"year":2022,"month":10,"utc":true},{"year":2023,"month":3,"utc":true},{"year":2023,"month":8,"utc":true},{"year":2024,"month":1,"utc":true}]}}},
 "layer":[
  {"mark":{"type":"line","strokeWidth":2,"invalid":"break-paths-show-domains"},"encoding":{"y":{"field":"p","type":"quantitative","scale":{"domain":[0,329.4],"nice":false},"axis":{"title":null,"domain":false,"labelOverlap":false,"values":[0,50,100,150,200,250,300]}},"color":{"datum":"摩托车产量（万辆，左轴）","type":"nominal","scale":{"domain":["摩托车销量（万辆，右轴）","摩托车产量（万辆，左轴）"],"range":["#15225e","#1da1df"]},"legend":{"orient":"none","legendX":17,"legendY":-11,"direction":"horizontal","symbolType":"stroke","symbolSize":324,"symbolStrokeWidth":2.5,"labelFontSize":8,"labelOffset":2,"columnPadding":5,"title":null}}}},
  {"mark":{"type":"line","strokeWidth":2,"invalid":"break-paths-show-domains"},"encoding":{"y":{"field":"s","type":"quantitative","scale":{"domain":[0,384.3],"nice":false},"axis":{"title":null,"orient":"right","domain":false,"labelOverlap":false,"values":[0,50,100,150,200,250,300,350]}},"color":{"datum":"摩托车销量（万辆，右轴）","type":"nominal","scale":{"domain":["摩托车销量（万辆，右轴）","摩托车产量（万辆，左轴）"],"range":["#15225e","#1da1df"]}}}},
  {"data":{"values":[{}]},"mark":{"type":"rule","color":"#000000","strokeWidth":1},"encoding":{"x":{"datum":{"year":2009,"month":1,"utc":true},"type":"temporal"},"y":{"datum":0,"type":"quantitative","scale":{"domain":[0,329.4],"nice":false},"axis":null},"y2":{"datum":300}}},
  {"data":{"values":[{}]},"mark":{"type":"rule","color":"#000000","strokeWidth":1},"encoding":{"x":{"datum":{"year":2024,"month":3,"utc":true},"type":"temporal"},"y":{"datum":0,"type":"quantitative","scale":{"domain":[0,384.3],"nice":false},"axis":null},"y2":{"datum":350}}}
 ],
 "resolve":{"scale":{"y":"independent"}}},
{"width":1,"height":1,"data":{"values":[]},"mark":"point","encoding":{}},

{"width":85,"height":161,"data":{"values":[{}]},"layer":[
 {"mark":{"type":"rule","color":"#808080","strokeWidth":1.5},"encoding":{"x":{"datum":57,"type":"quantitative","scale":{"domain":[0,85],"nice":false,"zero":false},"axis":null},"x2":{"datum":395},"y":{"datum":692,"type":"quantitative","scale":{"domain":[823,662],"nice":false,"zero":false},"axis":null}}},
 {"mark":{"type":"rule","color":"#808080","strokeWidth":1.5},"encoding":{"x":{"datum":409,"type":"quantitative","scale":{"domain":[0,85],"nice":false,"zero":false},"axis":null},"x2":{"datum":756},"y":{"datum":692,"type":"quantitative","scale":{"domain":[823,662],"nice":false,"zero":false},"axis":null}}},
 {"mark":{"type":"text","text":"资料来源：Wind、HTI","align":"left","baseline":"middle","font":"Noto Sans CJK SC","fontSize":9,"color":"#000000"},"encoding":{"x":{"datum":60,"type":"quantitative","scale":{"domain":[0,85],"nice":false,"zero":false},"axis":null},"y":{"datum":704,"type":"quantitative","scale":{"domain":[823,662],"nice":false,"zero":false},"axis":null}}},
 {"mark":{"type":"text","text":"资料来源：Wind、HTI","align":"left","baseline":"middle","font":"Noto Sans CJK SC","fontSize":9,"color":"#000000"},"encoding":{"x":{"datum":413,"type":"quantitative","scale":{"domain":[0,85],"nice":false,"zero":false},"axis":null},"y":{"datum":704,"type":"quantitative","scale":{"domain":[823,662],"nice":false,"zero":false},"axis":null}}},
 {"mark":{"type":"rule","color":"#808080","strokeWidth":2},"encoding":{"x":{"datum":57,"type":"quantitative","scale":{"domain":[0,85],"nice":false,"zero":false},"axis":null},"x2":{"datum":395},"y":{"datum":764,"type":"quantitative","scale":{"domain":[823,662],"nice":false,"zero":false},"axis":null}}},
 {"mark":{"type":"rule","color":"#a6a6a6","strokeWidth":1},"encoding":{"x":{"datum":57,"type":"quantitative","scale":{"domain":[0,85],"nice":false,"zero":false},"axis":null},"x2":{"datum":395},"y":{"datum":788,"type":"quantitative","scale":{"domain":[823,662],"nice":false,"zero":false},"axis":null}}},
 {"mark":{"type":"text","text":"图11 中国摩托车出口量、出口额","align":"left","baseline":"middle","font":"Noto Sans CJK SC","fontSize":11,"fontWeight":"bold","color":"#000000"},"encoding":{"x":{"datum":61,"type":"quantitative","scale":{"domain":[0,85],"nice":false,"zero":false},"axis":null},"y":{"datum":776,"type":"quantitative","scale":{"domain":[823,662],"nice":false,"zero":false},"axis":null}}}
]},
{"width":1,"height":1,"data":{"values":[]},"mark":"point","encoding":{}},
{"width":1,"height":1,"data":{"values":[]},"mark":"point","encoding":{}},
{"width":1,"height":1,"data":{"values":[]},"mark":"point","encoding":{}},
{"width":1,"height":1,"data":{"values":[]},"mark":"point","encoding":{}},

{"width":1,"height":1,"data":{"values":[]},"mark":"point","encoding":{}},
{"width":287,"height":126,
 "data":{"name":"c11"},
 "encoding":{"x":{"field":"m","type":"ordinal","sort":null,"scale":{"type":"band","paddingInner":0.35,"paddingOuter":0.3},"axis":{"title":null,"labelAngle":-90,"labelFontSize":6,"labelOverlap":false,"tickSize":2,"values":["2014-6","2014-9","2014-12","2015-3","2015-6","2015-9","2015-12","2016-3","2016-6","2016-9","2016-12","2017-3","2017-6","2017-9","2017-12","2018-3","2018-6","2018-9","2018-12","2019-3","2019-6","2019-9","2019-12","2020-3","2020-6","2020-9","2020-12","2021-3","2021-6","2021-9","2021-12","2022-3","2022-6","2022-9","2022-12","2023-3","2023-6","2023-9","2023-12","2024-3"]}}},
 "layer":[
  {"mark":{"type":"bar"},"encoding":{"y":{"field":"v","type":"quantitative","scale":{"domain":[0,14],"nice":false},"axis":{"title":null,"labelOverlap":false,"values":[0,2,4,6,8,10,12,14]}},"fill":{"datum":"摩托车出口金额（亿美元，左轴）","type":"nominal","scale":{"range":["#2a3468"]},"legend":{"orient":"none","legendX":2,"legendY":-20,"direction":"horizontal","symbolType":"M-1,-0.4H1V0.4H-1Z","symbolSize":225,"labelFontSize":8,"labelOffset":4,"title":null}}}},
  {"mark":{"type":"line","strokeWidth":2,"invalid":"break-paths-show-domains"},"encoding":{"y":{"field":"q","type":"quantitative","scale":{"domain":[0,400],"nice":false},"axis":{"title":null,"orient":"right","labelOverlap":false,"values":[0,50,100,150,200,250,300,350,400]}},"stroke":{"datum":"摩托车出口数量（万辆，右轴）","type":"nominal","scale":{"range":["#1da1df"]},"legend":{"orient":"none","legendX":151,"legendY":-22,"direction":"horizontal","symbolType":"stroke","symbolSize":400,"symbolStrokeWidth":2.5,"labelFontSize":8,"labelOffset":3,"title":null}}}}
 ],
 "resolve":{"scale":{"y":"independent"}}},
{"width":1,"height":1,"data":{"values":[]},"mark":"point","encoding":{}},
{"width":1,"height":1,"data":{"values":[]},"mark":"point","encoding":{}},
{"width":1,"height":1,"data":{"values":[]},"mark":"point","encoding":{}},

{"width":85,"height":184,"data":{"values":[{}]},"layer":[
 {"mark":{"type":"rule","color":"#808080","strokeWidth":1.5},"encoding":{"x":{"datum":57,"type":"quantitative","scale":{"domain":[0,85],"nice":false,"zero":false},"axis":null},"x2":{"datum":395},"y":{"datum":989,"type":"quantitative","scale":{"domain":[1133,949],"nice":false,"zero":false},"axis":null}}},
 {"mark":{"type":"text","text":"资料来源：Wind、HTI","align":"left","baseline":"middle","font":"Noto Sans CJK SC","fontSize":9,"color":"#000000"},"encoding":{"x":{"datum":60,"type":"quantitative","scale":{"domain":[0,85],"nice":false,"zero":false},"axis":null},"y":{"datum":999,"type":"quantitative","scale":{"domain":[1133,949],"nice":false,"zero":false},"axis":null}}},
 {"mark":{"type":"rule","color":"#1c1f7c","strokeWidth":2.5},"encoding":{"x":{"datum":49,"type":"quantitative","scale":{"domain":[0,85],"nice":false,"zero":false},"axis":null},"x2":{"datum":756},"y":{"datum":1064,"type":"quantitative","scale":{"domain":[1133,949],"nice":false,"zero":false},"axis":null}}},
 {"mark":{"type":"text","text":"请务必阅读正文之后的信息披露和法律声明","align":"right","baseline":"middle","font":"Noto Sans CJK SC","fontSize":11.5,"color":"#222222"},"encoding":{"x":{"datum":756,"type":"quantitative","scale":{"domain":[0,85],"nice":false,"zero":false},"axis":null},"y":{"datum":1078,"type":"quantitative","scale":{"domain":[1133,949],"nice":false,"zero":false},"axis":null}}}
]},
{"width":1,"height":1,"data":{"values":[]},"mark":"point","encoding":{}},
{"width":1,"height":1,"data":{"values":[]},"mark":"point","encoding":{}},
{"width":1,"height":1,"data":{"values":[]},"mark":"point","encoding":{}},
{"width":1,"height":1,"data":{"values":[]},"mark":"point","encoding":{}}
]
}
